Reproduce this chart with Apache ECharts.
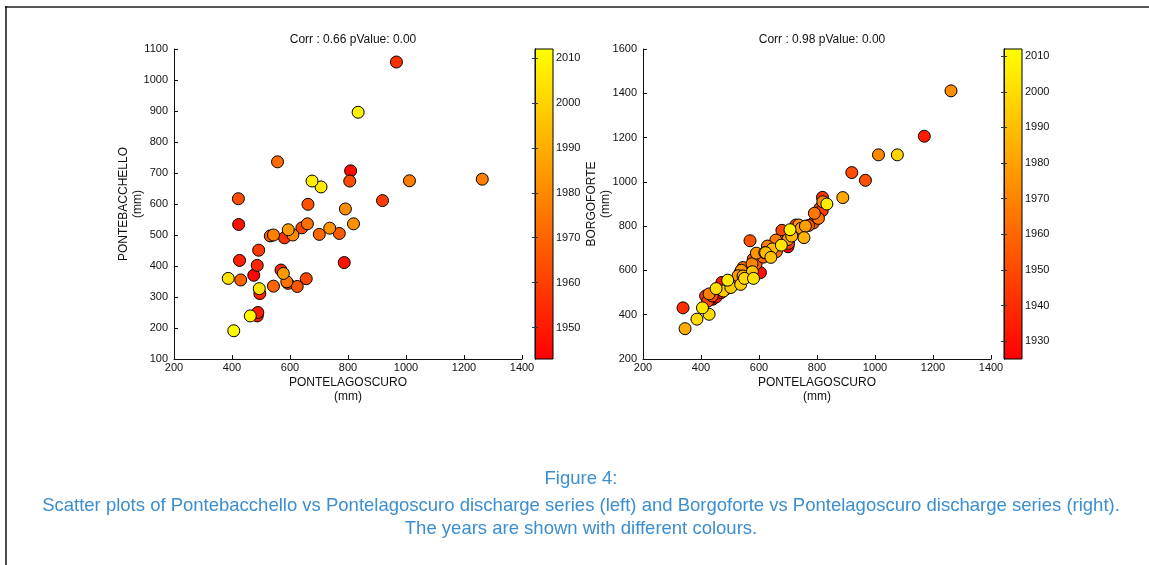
<!DOCTYPE html>
<html>
<head>
<meta charset="utf-8">
<script src="https://cdn.jsdelivr.net/npm/echarts@6/dist/echarts.min.js"></script>
<style>
  html, body { margin: 0; padding: 0; background: #fff; }
  #chart { width: 1149px; height: 565px; }
</style>
</head>
<body>
<div id="chart"></div>
<script>
// left panel: Pontebacchello vs Pontelagoscuro (mm), by year
const leftYears = [1944, 1946, 1947, 1948, 1949, 1950, 1951, 1952, 1953, 1954,
  1956, 1957, 1958, 1959, 1960, 1961, 1962, 1963, 1964, 1965, 1966, 1967,
  1968, 1969, 1970, 1971, 1972, 1973, 1974, 1976, 1977, 1978, 1980, 1981,
  1982, 1983, 1984, 1985, 2004, 2005, 2006, 2007, 2008, 2010, 2011];
const leftPontelagoscuro = [475, 809, 423, 787, 487, 489, 426, 496, 487, 569,
  967, 581, 492, 919, 593, 656, 641, 806, 422, 662, 625, 770,
  532, 430, 543, 701, 557, 660, 589, 1012, 1263, 543, 610, 791,
  819, 737, 577, 594, 387, 494, 707, 676, 835, 463, 406];
const leftPontebacchello = [370, 707, 534, 411, 239, 250, 418, 311, 402, 387,
  1058, 491, 451, 611, 344, 359, 523, 674, 617, 599, 334, 505,
  497, 355, 335, 502, 736, 536, 349, 675, 680, 500, 500, 584,
  536, 522, 376, 517, 360, 327, 655, 674, 896, 239, 191];

// right panel: Borgoforte vs Pontelagoscuro (mm), by year
const rightYears = [1925, 1927, 1928, 1929, 1930, 1931, 1932, 1933, 1934, 1936,
  1937, 1938, 1939, 1940, 1941, 1942, 1943, 1944, 1945, 1946, 1947, 1948,
  1949, 1950, 1951, 1952, 1953, 1954, 1955, 1956, 1957, 1958, 1959, 1960,
  1961, 1962, 1963, 1964, 1965, 1966, 1967, 1968, 1969, 1970, 1971, 1972,
  1973, 1974, 1975, 1976, 1977, 1978, 1979, 1980, 1982, 1983, 1984, 1985,
  1986, 1987, 1988, 1989, 1990, 1991, 1992, 1993, 1994, 1995, 1997, 1998,
  1999, 2000, 2001, 2002, 2003, 2004, 2005, 2006, 2007];
const rightPontelagoscuro = [630, 535, 700, 440, 605, 452, 472, 470, 1170, 495,
  510, 565, 640, 338, 800, 819, 810, 416, 818, 727, 702, 423,
  679, 439, 920, 967, 569, 787, 580, 771, 530, 590, 615, 660,
  680, 720, 545, 660, 805, 791, 658, 629, 428, 576, 1012, 820,
  1262, 737, 591, 539, 528, 745, 760, 700, 889, 620, 345, 545,
  755, 485, 713, 646, 623, 641, 577, 477, 503, 537, 1077, 550,
  386, 428, 452, 581, 677, 405, 492, 834, 707];
const rightBorgoforte = [700, 590, 707, 470, 590, 480, 546, 500, 1206, 525,
  540, 610, 690, 431, 840, 930, 880, 485, 870, 805, 722, 461,
  781, 485, 1042, 1007, 734, 814, 651, 803, 560, 630, 660, 700,
  730, 770, 613, 685, 835, 858, 737, 710, 494, 630, 1122, 910,
  1411, 805, 678, 601, 576, 790, 800, 740, 929, 680, 337, 575,
  748, 515, 755, 697, 680, 659, 594, 507, 523, 537, 1122, 564,
  380, 402, 518, 564, 714, 431, 556, 900, 784];

const leftTitle = 'Corr : 0.66 pValue: 0.00';
const rightTitle = 'Corr : 0.98 pValue: 0.00';
const leftYearRange = [1943, 2012];
const rightYearRange = [1925, 2012];
const leftBarTicks = [1950, 1960, 1970, 1980, 1990, 2000, 2010];
const rightBarTicks = [1930, 1940, 1950, 1960, 1970, 1980, 1990, 2000, 2010];
const captionLines = [
  'Figure 4:',
  'Scatter plots of Pontebacchello vs Pontelagoscuro discharge series (left) and Borgoforte vs Pontelagoscuro discharge series (right).',
  'The years are shown with different colours.'
];

const FONT = 'Liberation Sans, Arial, Helvetica, sans-serif';
const autumn = ['#ff0000', '#ffff00'];
const plain = (v) => String(v);

const toPoints = (xs, ys, years) => xs.map((x, i) => [x, ys[i], years[i]]);

const mainX = (gridIndex, name) => ({
  gridIndex: gridIndex, type: 'value', min: 200, max: 1400, interval: 200,
  name: name, nameLocation: 'middle', nameGap: 17, nameMoveOverlap: false,
  nameTextStyle: { fontFamily: FONT, fontSize: 12, color: '#111', lineHeight: 14 },
  axisLine: { lineStyle: { color: '#111', width: 1 } },
  axisTick: { inside: true, length: 4, lineStyle: { color: '#111' } },
  axisLabel: { fontFamily: FONT, fontSize: 11, color: '#111', margin: 3, formatter: plain },
  splitLine: { show: false }
});

const mainY = (gridIndex, name, min, max, interval, gap) => ({
  gridIndex: gridIndex, type: 'value', min: min, max: max, interval: interval,
  name: name, nameLocation: 'middle', nameGap: gap, nameRotate: 90, nameMoveOverlap: false,
  nameTextStyle: { fontFamily: FONT, fontSize: 12, color: '#111', lineHeight: 14 },
  axisLine: { show: true, lineStyle: { color: '#111', width: 1 } },
  axisTick: { show: true, inside: true, length: 4, lineStyle: { color: '#111' } },
  axisLabel: { fontFamily: FONT, fontSize: 11, color: '#111', margin: 6, formatter: plain },
  splitLine: { show: false }
});

const barX = (gridIndex) => ({
  gridIndex: gridIndex, type: 'value', min: 0, max: 1, show: false
});

const barY = (gridIndex, range, ticks, side) => ({
  gridIndex: gridIndex, type: 'value', min: range[0], max: range[1], position: side, z: 4,
  axisLine: { show: true, lineStyle: { color: '#111' } },
  axisTick: { show: true, inside: true, length: 3, customValues: ticks, lineStyle: { color: '#333' } },
  axisLabel: { show: side === 'right', customValues: ticks, fontFamily: FONT, fontSize: 11,
    color: '#111', margin: 3, formatter: plain },
  splitLine: { show: false }
});

const colorbar = (axisIndex, yIndex, range) => ({
  type: 'custom', xAxisIndex: axisIndex, yAxisIndex: yIndex, z: 1, silent: true,
  data: [[0, range[0], range[1]]],
  renderItem: function (params, api) {
    var p0 = api.coord([0, api.value(1)]);
    var p1 = api.coord([1, api.value(2)]);
    return {
      type: 'rect',
      shape: { x: p0[0], y: p1[1], width: p1[0] - p0[0], height: p0[1] - p1[1] },
      style: {
        fill: new echarts.graphic.LinearGradient(0, 1, 0, 0, [
          { offset: 0, color: autumn[0] },
          { offset: 1, color: autumn[1] }
        ])
      }
    };
  }
});

const scatter = (xIndex, yIndex, data) => ({
  type: 'scatter', xAxisIndex: xIndex, yAxisIndex: yIndex,
  symbolSize: 12, data: data,
  itemStyle: { borderColor: '#000', borderWidth: 1, opacity: 1 },
  emphasis: { disabled: true }
});

const captionStyle = { fontFamily: FONT, fontSize: 18.5, fontWeight: 'normal', color: '#3b8ed0' };

var chartDom = document.getElementById('chart');
var myChart = echarts.init(chartDom, null, { renderer: 'canvas' });
var option;

option = {
  backgroundColor: '#fff',
  animation: false,
  textStyle: { fontFamily: FONT },
  title: [
    { text: leftTitle, left: 348, top: 29, textAlign: 'center',
      textStyle: { fontFamily: FONT, fontSize: 12, fontWeight: 'normal', color: '#111' } },
    { text: rightTitle, left: 817, top: 29, textAlign: 'center',
      textStyle: { fontFamily: FONT, fontSize: 12, fontWeight: 'normal', color: '#111' } },
    { text: captionLines[0], left: 576, top: 464, textAlign: 'center', textStyle: captionStyle },
    { text: captionLines[1], left: 576, top: 491, textAlign: 'center', textStyle: captionStyle },
    { text: captionLines[2], left: 576, top: 514, textAlign: 'center', textStyle: captionStyle }
  ],
  grid: [
    { left: 174, top: 49, width: 348, height: 310 },
    { left: 535, top: 49, width: 18, height: 310, show: true, z: 3,
      borderColor: '#000', borderWidth: 1, backgroundColor: 'transparent' },
    { left: 643, top: 49, width: 348, height: 310 },
    { left: 1004, top: 49, width: 18, height: 310, show: true, z: 3,
      borderColor: '#000', borderWidth: 1, backgroundColor: 'transparent' }
  ],
  xAxis: [
    mainX(0, 'PONTELAGOSCURO\n(mm)'),
    barX(1),
    mainX(2, 'PONTELAGOSCURO\n(mm)'),
    barX(3)
  ],
  yAxis: [
    mainY(0, 'PONTEBACCHELLO\n(mm)', 100, 1100, 100, 29),
    barY(1, leftYearRange, leftBarTicks, 'right'),
    barY(1, leftYearRange, leftBarTicks, 'left'),
    mainY(2, 'BORGOFORTE\n(mm)', 200, 1600, 200, 30),
    barY(3, rightYearRange, rightBarTicks, 'right'),
    barY(3, rightYearRange, rightBarTicks, 'left')
  ],
  visualMap: [
    { type: 'continuous', show: false, seriesIndex: 0, dimension: 2,
      min: leftYearRange[0], max: leftYearRange[1], inRange: { color: autumn } },
    { type: 'continuous', show: false, seriesIndex: 2, dimension: 2,
      min: rightYearRange[0], max: rightYearRange[1], inRange: { color: autumn } }
  ],
  graphic: [
    { type: 'line', shape: { x1: 5, y1: 7, x2: 1149, y2: 7 },
      style: { stroke: '#555', lineWidth: 2 } },
    { type: 'line', shape: { x1: 6, y1: 6, x2: 6, y2: 565 },
      style: { stroke: '#111', lineWidth: 1.5 } }
  ],
  series: [
    scatter(0, 0, toPoints(leftPontelagoscuro, leftPontebacchello, leftYears)),
    colorbar(1, 1, leftYearRange),
    scatter(2, 3, toPoints(rightPontelagoscuro, rightBorgoforte, rightYears)),
    colorbar(3, 4, rightYearRange)
  ]
};

option && myChart.setOption(option);
</script>
</body>
</html>
